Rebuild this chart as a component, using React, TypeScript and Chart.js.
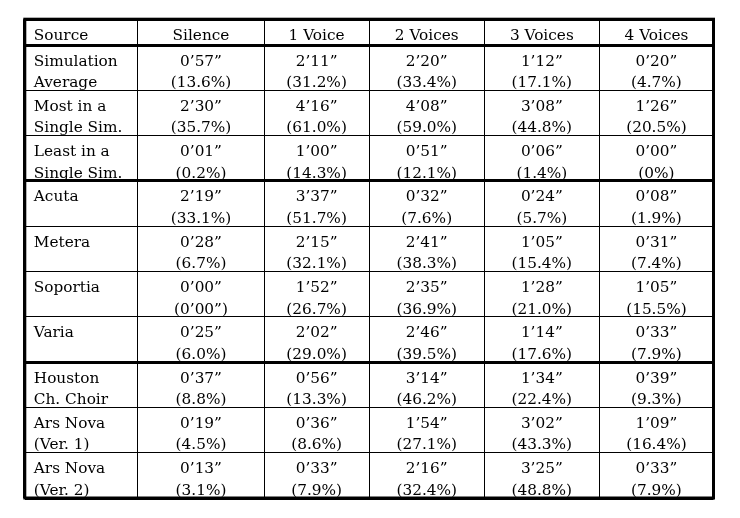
import React, { useEffect, useRef } from "react";
import { Chart, registerables } from "chart.js";

Chart.register(...registerables);

// ---- Data ----
const columnHeaders = ["Source", "Silence", "1 Voice", "2 Voices", "3 Voices", "4 Voices"];

const sourceLabels = [
  ["Simulation", "Average"],
  ["Most in a", "Single Sim."],
  ["Least in a", "Single Sim."],
  ["Acuta"],
  ["Metera"],
  ["Soportia"],
  ["Varia"],
  ["Houston", "Ch. Choir"],
  ["Ars Nova", "(Ver. 1)"],
  ["Ars Nova", "(Ver. 2)"],
];

const silenceTime = ["0’57”", "2’30”", "0’01”", "2’19”", "0’28”", "0’00”", "0’25”", "0’37”", "0’19”", "0’13”"];
const silenceShare = ["(13.6%)", "(35.7%)", "(0.2%)", "(33.1%)", "(6.7%)", "(0’00”)", "(6.0%)", "(8.8%)", "(4.5%)", "(3.1%)"];
const oneVoiceTime = ["2’11”", "4’16”", "1’00”", "3’37”", "2’15”", "1’52”", "2’02”", "0’56”", "0’36”", "0’33”"];
const oneVoiceShare = ["(31.2%)", "(61.0%)", "(14.3%)", "(51.7%)", "(32.1%)", "(26.7%)", "(29.0%)", "(13.3%)", "(8.6%)", "(7.9%)"];
const twoVoicesTime = ["2’20”", "4’08”", "0’51”", "0’32”", "2’41”", "2’35”", "2’46”", "3’14”", "1’54”", "2’16”"];
const twoVoicesShare = ["(33.4%)", "(59.0%)", "(12.1%)", "(7.6%)", "(38.3%)", "(36.9%)", "(39.5%)", "(46.2%)", "(27.1%)", "(32.4%)"];
const threeVoicesTime = ["1’12”", "3’08”", "0’06”", "0’24”", "1’05”", "1’28”", "1’14”", "1’34”", "3’02”", "3’25”"];
const threeVoicesShare = ["(17.1%)", "(44.8%)", "(1.4%)", "(5.7%)", "(15.4%)", "(21.0%)", "(17.6%)", "(22.4%)", "(43.3%)", "(48.8%)"];
const fourVoicesTime = ["0’20”", "1’26”", "0’00”", "0’08”", "0’31”", "1’05”", "0’33”", "0’39”", "1’09”", "0’33”"];
const fourVoicesShare = ["(4.7%)", "(20.5%)", "(0%)", "(1.9%)", "(7.4%)", "(15.5%)", "(7.9%)", "(9.3%)", "(16.4%)", "(7.9%)"];

// rows after which a heavy rule separates groups
const groupBreaks = [3, 7];

// ---- Layout (not data) ----
const COL_WIDTHS = [113, 126, 105, 115, 115, 114];
const HEADER_H = 0.57; // header height in data-row units
const FONT = '15.3px "DejaVu Serif"';

const cellTextPlugin = {
  id: "cellText",
  afterDatasetsDraw(chart: any) {
    const meta = chart.getDatasetMeta(0);
    const ds = chart.data.datasets[0];
    const ctx = chart.ctx;
    ctx.save();
    ctx.fillStyle = "#000";
    ctx.font = FONT;
    ctx.textBaseline = "alphabetic";
    meta.data.forEach((el: any, i: number) => {
      const cell = ds.data[i];
      ctx.textAlign = cell.align;
      const x = cell.align === "left" ? el.x + 9 : el.x;
      cell.lines.forEach((t: string, j: number) => {
        ctx.fillText(t, x, el.y + 20.5 + j * 21.5);
      });
    });
    const a = chart.chartArea;
    ctx.lineWidth = 3;
    ctx.strokeStyle = "#000";
    ctx.strokeRect(a.left, a.top, a.right - a.left, a.bottom - a.top);
    ctx.restore();
  },
};

export default function App() {
  const ref = useRef<HTMLCanvasElement>(null);

  useEffect(() => {
    const colBounds: number[] = [0];
    COL_WIDTHS.forEach((w) => colBounds.push(colBounds[colBounds.length - 1] + w));
    const nRows = sourceLabels.length;
    const rowBounds: number[] = [0];
    for (let i = 0; i <= nRows; i++) rowBounds.push(HEADER_H + i);
    const heavyRows = new Set<number>([0, 1, rowBounds.length - 1, ...groupBreaks.map((g) => g + 1)]);

    const valueCols = [
      [silenceTime, silenceShare],
      [oneVoiceTime, oneVoiceShare],
      [twoVoicesTime, twoVoicesShare],
      [threeVoicesTime, threeVoicesShare],
      [fourVoicesTime, fourVoicesShare],
    ];

    const cells: any[] = [];
    columnHeaders.forEach((h, c) => {
      cells.push({
        x: c === 0 ? colBounds[0] : (colBounds[c] + colBounds[c + 1]) / 2,
        y: rowBounds[0],
        lines: [h],
        align: c === 0 ? "left" : "center",
      });
    });
    sourceLabels.forEach((lbl, r) => {
      cells.push({ x: colBounds[0], y: rowBounds[r + 1], lines: lbl, align: "left" });
      valueCols.forEach(([times, shares], c) => {
        cells.push({
          x: (colBounds[c + 1] + colBounds[c + 2]) / 2,
          y: rowBounds[r + 1],
          lines: [times[r], shares[r]],
          align: "center",
        });
      });
    });

    const chart = new Chart(ref.current!, {
      type: "scatter",
      data: {
        datasets: [
          {
            data: cells,
            pointRadius: 0,
            pointHoverRadius: 0,
          } as any,
        ],
      },
      options: {
        animation: false,
        responsive: false,
        events: [],
        layout: { padding: { left: 24.8, top: 19.2, right: 26.5, bottom: 20 } },
        plugins: { legend: { display: false }, tooltip: { enabled: false } },
        scales: {
          x: {
            type: "linear",
            min: 0,
            max: colBounds[colBounds.length - 1],
            afterBuildTicks: (s: any) => {
              s.ticks = colBounds.map((v) => ({ value: v }));
            },
            ticks: { display: false },
            border: { display: false },
            grid: {
              drawTicks: false,
              color: "#000",
              lineWidth: (ctx: any) => (ctx.index === 0 || ctx.index === colBounds.length - 1 ? 3 : 1),
            },
          },
          y: {
            type: "linear",
            reverse: true,
            min: 0,
            max: rowBounds[rowBounds.length - 1],
            afterBuildTicks: (s: any) => {
              s.ticks = rowBounds.map((v) => ({ value: v }));
            },
            ticks: { display: false },
            border: { display: false },
            grid: {
              drawTicks: false,
              color: "#000",
              lineWidth: (ctx: any) => (heavyRows.has(ctx.index) ? 3 : 1),
            },
          },
        },
      } as any,
      plugins: [cellTextPlugin],
    });
    return () => chart.destroy();
  }, []);

  return (
    <div style={{ position: "absolute", left: 0, top: 0, width: 740, height: 518, background: "#fff" }}>
      <canvas ref={ref} width={740} height={518} style={{ display: "block" }} />
    </div>
  );
}
